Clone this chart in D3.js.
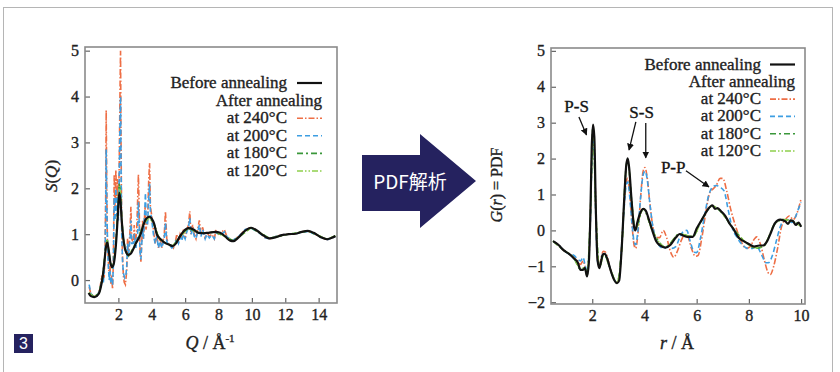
<!DOCTYPE html>
<html>
<head>
<meta charset="utf-8">
<script src="https://cdn.jsdelivr.net/npm/d3@7"></script>
<style>
  body { margin: 0; background: #fff; }
  svg { display: block; }
  .serif { stroke: #222; stroke-width: 0.35px; }
</style>
</head>
<body>
<div id="chart"></div>
<script>
// legend rows
const legendLabels = ['at 240°C', 'at 200°C', 'at 180°C', 'at 120°C'];
const seriesColors = ['#ee6e45', '#3d9ee2', '#3a973a', '#8fd04c'];
const seriesDash = ['6,2,1.5,2', '5,3', '6,3,2,3', '6,2,1.5,2,1.5,2'];

// left panel: S(Q)
const sqTicksX = [2, 4, 6, 8, 10, 12, 14];
const sqTicksY = [0, 1, 2, 3, 4, 5];

const sqBefore = [[0.22,-0.28],[0.35,-0.35],[0.55,-0.37],[0.7,-0.35],[0.85,-0.28],[0.95,-0.15],[1.05,0.05],[1.15,0.35],[1.25,0.7],[1.33,0.82],[1.42,0.65],[1.52,0.38],[1.62,0.28],[1.72,0.35],[1.85,0.75],[1.95,1.3],[2.05,1.9],[2.12,1.75],[2.2,1.3],[2.3,0.9],[2.45,0.62],[2.6,0.55],[2.75,0.58],[2.9,0.68],[3.05,0.8],[3.2,0.9],[3.35,1.02],[3.5,1.2],[3.65,1.33],[3.85,1.38],[4.0,1.34],[4.15,1.22],[4.3,1.0],[4.45,0.92],[4.65,0.85],[4.85,0.8],[5.05,0.77],[5.25,0.74],[5.45,0.8],[5.65,0.93],[5.9,1.06],[6.2,1.13],[6.5,1.1],[6.8,1.03],[7.1,1.02],[7.4,1.03],[7.8,1.05],[8.1,1.03],[8.4,0.95],[8.7,0.86],[8.9,0.85],[9.2,0.93],[9.6,1.08],[9.95,1.14],[10.3,1.08],[10.7,0.97],[11.05,0.91],[11.4,0.93],[11.8,0.98],[12.2,1.0],[12.6,1.01],[13.0,1.05],[13.35,1.07],[13.7,1.03],[14.1,0.94],[14.5,0.89],[14.8,0.92],[15.0,0.96]];

const sq240 = [[0.25,-0.15],[0.35,-0.3],[0.5,-0.35],[0.7,-0.35],[0.85,-0.25],[0.95,-0.05],[1.0,0.1],[1.05,-0.05],[1.1,0.2],[1.15,0.05],[1.2,0.6],[1.24,1.8],[1.27,3.7],[1.3,2.2],[1.34,0.9],[1.4,0.4],[1.45,0.1],[1.5,0.3],[1.55,-0.1],[1.6,0.1],[1.65,-0.2],[1.7,0.4],[1.75,2.3],[1.8,1.6],[1.85,2.4],[1.9,1.7],[1.95,2.2],[2.0,1.5],[2.05,2.5],[2.1,4.2],[2.13,5.0],[2.16,3.0],[2.2,1.2],[2.25,0.5],[2.3,0.1],[2.35,-0.05],[2.42,-0.1],[2.5,0.2],[2.55,0.9],[2.6,0.5],[2.7,1.1],[2.75,1.6],[2.8,0.9],[2.9,0.8],[2.95,1.2],[3.0,0.7],[3.1,1.1],[3.2,2.3],[3.25,1.5],[3.3,0.6],[3.35,0.4],[3.45,1.3],[3.5,0.9],[3.6,1.6],[3.65,1.1],[3.75,1.3],[3.82,2.2],[3.87,2.55],[3.92,1.6],[4.0,1.4],[4.1,1.1],[4.2,0.8],[4.3,1.0],[4.4,0.7],[4.5,0.9],[4.6,0.7],[4.75,1.0],[4.82,1.5],[4.9,0.9],[5.0,0.8],[5.1,0.75],[5.2,0.75],[5.3,0.7],[5.4,0.8],[5.5,1.0],[5.6,0.8],[5.7,1.0],[5.8,0.9],[5.9,1.1],[6.0,0.9],[6.1,1.1],[6.2,1.2],[6.28,1.5],[6.35,1.0],[6.45,1.2],[6.55,1.0],[6.65,0.9],[6.75,1.1],[6.85,1.3],[6.95,1.0],[7.05,1.15],[7.2,0.9],[7.3,1.05],[7.45,0.95],[7.6,1.0],[7.75,0.9],[7.85,1.1],[8.0,1.0],[8.2,1.05],[8.35,1.1],[8.5,0.95],[8.8,0.85],[9.2,0.95],[9.6,1.1],[9.95,1.14],[10.4,1.05],[10.8,0.92],[11.1,0.9],[11.5,0.96],[12.0,1.0],[12.5,1.0],[13.0,1.05],[13.35,1.07],[13.8,1.0],[14.2,0.92],[14.55,0.88],[15,0.95]];

const sq200 = [[0.25,-0.1],[0.35,-0.3],[0.5,-0.35],[0.7,-0.35],[0.85,-0.25],[0.95,-0.1],[1.05,0.05],[1.1,-0.05],[1.15,0.2],[1.2,0.5],[1.24,1.5],[1.27,2.85],[1.3,1.8],[1.35,0.8],[1.4,0.3],[1.45,0.0],[1.5,0.2],[1.55,-0.05],[1.6,0.05],[1.65,-0.1],[1.7,0.3],[1.75,1.8],[1.8,1.3],[1.85,2.0],[1.9,1.4],[1.95,1.8],[2.0,1.3],[2.05,2.2],[2.1,3.5],[2.13,4.0],[2.16,2.5],[2.2,1.0],[2.25,0.4],[2.3,0.15],[2.38,0.05],[2.45,0.1],[2.5,0.3],[2.55,0.8],[2.6,0.5],[2.7,0.9],[2.75,1.3],[2.8,0.8],[2.9,0.8],[2.95,1.0],[3.05,0.7],[3.15,1.0],[3.2,1.7],[3.25,1.2],[3.3,0.6],[3.35,0.45],[3.45,1.1],[3.5,0.9],[3.58,1.5],[3.62,1.9],[3.68,1.2],[3.75,1.2],[3.82,1.8],[3.87,2.1],[3.92,1.5],[4.0,1.3],[4.1,1.0],[4.2,0.8],[4.3,0.95],[4.4,0.7],[4.5,0.85],[4.6,0.7],[4.75,0.9],[4.82,1.25],[4.9,0.85],[5.0,0.75],[5.1,0.75],[5.2,0.7],[5.3,0.72],[5.4,0.8],[5.5,0.9],[5.6,0.8],[5.7,0.95],[5.8,0.85],[5.9,1.0],[6.0,0.9],[6.1,1.05],[6.2,1.15],[6.28,1.35],[6.35,1.0],[6.45,1.1],[6.55,0.95],[6.65,0.9],[6.75,1.05],[6.85,1.2],[6.95,0.95],[7.05,1.1],[7.2,0.9],[7.3,1.0],[7.45,0.92],[7.6,0.98],[7.75,0.9],[7.85,1.05],[8.0,1.0],[8.2,1.0],[8.35,1.05],[8.5,0.95],[8.8,0.85],[9.2,0.95],[9.6,1.1],[9.95,1.13],[10.4,1.04],[10.8,0.92],[11.1,0.9],[11.5,0.96],[12.0,1.0],[12.5,1.0],[13.0,1.04],[13.35,1.06],[13.8,1.0],[14.2,0.92],[14.55,0.88],[15,0.95]];

const sq180 = [[0.22,-0.28],[0.55,-0.37],[0.85,-0.28],[1.05,0.05],[1.15,0.38],[1.25,0.75],[1.33,0.9],[1.42,0.66],[1.52,0.38],[1.62,0.27],[1.72,0.36],[1.85,0.8],[1.95,1.45],[2.05,2.1],[2.12,1.95],[2.2,1.35],[2.3,0.9],[2.45,0.6],[2.6,0.53],[2.9,0.7],[3.2,0.92],[3.5,1.22],[3.85,1.38],[4.15,1.2],[4.45,0.9],[4.85,0.8],[5.25,0.74],[5.65,0.94],[6.2,1.13],[6.8,1.03],[7.4,1.03],[7.8,1.05],[8.4,0.95],[8.9,0.85],[9.95,1.14],[11.05,0.91],[12.2,1.0],[13.35,1.07],[14.5,0.89],[15.0,0.96]];

const sq120 = [[0.22,-0.28],[0.55,-0.37],[0.85,-0.28],[1.05,0.05],[1.15,0.37],[1.25,0.74],[1.33,0.88],[1.42,0.66],[1.52,0.38],[1.62,0.28],[1.72,0.36],[1.85,0.78],[1.95,1.4],[2.05,2.05],[2.12,1.9],[2.2,1.32],[2.3,0.9],[2.45,0.61],[2.6,0.54],[2.9,0.69],[3.2,0.91],[3.5,1.21],[3.85,1.38],[4.15,1.21],[4.45,0.91],[4.85,0.8],[5.25,0.74],[5.65,0.93],[6.2,1.13],[6.8,1.03],[7.4,1.03],[7.8,1.05],[8.4,0.95],[8.9,0.85],[9.95,1.14],[11.05,0.91],[12.2,1.0],[13.35,1.07],[14.5,0.89],[15.0,0.96]];

// right panel: G(r)
const grTicksX = [2, 4, 6, 8, 10];
const grTicksY = [-2, -1, 0, 1, 2, 3, 4, 5];

const grBefore = [[0.5,-0.3],[0.7,-0.4],[0.9,-0.55],[1.1,-0.65],[1.3,-0.78],[1.45,-0.9],[1.55,-1.1],[1.65,-1.1],[1.72,-1.05],[1.8,-1.28],[1.87,-0.9],[1.93,0.5],[1.98,2.3],[2.03,2.95],[2.08,2.6],[2.14,0.5],[2.2,-0.8],[2.27,-1.05],[2.33,-0.9],[2.4,-0.68],[2.48,-0.65],[2.58,-0.8],[2.7,-1.1],[2.82,-1.35],[2.95,-1.47],[3.03,-1.4],[3.12,-0.6],[3.22,0.8],[3.3,1.8],[3.36,2.01],[3.42,1.7],[3.5,0.9],[3.6,0.1],[3.65,0.0],[3.72,0.2],[3.82,0.45],[3.95,0.6],[4.05,0.55],[4.15,0.35],[4.3,0.0],[4.45,-0.3],[4.6,-0.42],[4.8,-0.48],[5.0,-0.4],[5.2,-0.2],[5.35,-0.1],[5.5,-0.15],[5.65,-0.18],[5.85,-0.18],[6.0,0.05],[6.2,0.3],[6.4,0.55],[6.6,0.7],[6.7,0.6],[6.8,0.62],[6.95,0.52],[7.1,0.4],[7.25,0.2],[7.4,0.05],[7.6,-0.2],[7.8,-0.3],[8.0,-0.38],[8.2,-0.45],[8.4,-0.42],[8.55,-0.42],[8.7,-0.3],[8.85,-0.05],[9.0,0.2],[9.2,0.3],[9.4,0.25],[9.5,0.18],[9.6,0.28],[9.7,0.25],[9.8,0.15],[9.9,0.22],[10.0,0.1]];

const gr240 = [[0.5,-0.3],[0.7,-0.4],[0.9,-0.55],[1.1,-0.65],[1.3,-0.75],[1.45,-0.85],[1.55,-0.95],[1.65,-0.85],[1.72,-1.0],[1.8,-1.2],[1.87,-0.8],[1.93,0.4],[1.98,2.0],[2.03,2.6],[2.08,2.3],[2.14,0.4],[2.2,-0.8],[2.27,-1.0],[2.33,-0.8],[2.42,-0.58],[2.5,-0.6],[2.6,-0.8],[2.7,-1.1],[2.82,-1.35],[2.95,-1.45],[3.03,-1.35],[3.12,-0.5],[3.22,0.7],[3.3,1.35],[3.36,1.45],[3.44,1.0],[3.52,0.2],[3.6,-0.4],[3.66,-0.5],[3.75,-0.1],[3.85,0.9],[3.95,1.65],[4.02,1.75],[4.1,1.5],[4.2,0.8],[4.3,0.2],[4.45,-0.2],[4.58,-0.2],[4.72,0.0],[4.85,-0.2],[5.0,-0.6],[5.12,-0.75],[5.25,-0.6],[5.4,-0.3],[5.55,-0.12],[5.65,-0.15],[5.8,-0.5],[5.95,-0.72],[6.05,-0.7],[6.2,-0.2],[6.35,0.5],[6.5,1.05],[6.62,1.15],[6.75,1.25],[6.9,1.45],[7.0,1.45],[7.15,1.1],[7.3,0.6],[7.5,0.1],[7.7,-0.3],[7.9,-0.5],[8.05,-0.45],[8.2,-0.25],[8.3,-0.18],[8.45,-0.4],[8.6,-0.85],[8.72,-1.15],[8.82,-1.23],[8.95,-1.0],[9.1,-0.5],[9.25,0.1],[9.4,0.3],[9.55,0.4],[9.7,0.3],[9.8,0.4],[9.9,0.6],[10.0,0.88]];

const gr200 = [[0.5,-0.3],[0.7,-0.4],[0.9,-0.55],[1.1,-0.65],[1.3,-0.7],[1.45,-0.8],[1.55,-0.85],[1.65,-0.75],[1.72,-0.95],[1.8,-1.15],[1.87,-0.75],[1.93,0.3],[1.98,1.8],[2.03,2.5],[2.08,2.2],[2.14,0.3],[2.2,-0.85],[2.27,-1.0],[2.33,-0.85],[2.42,-0.65],[2.5,-0.7],[2.6,-0.85],[2.7,-1.1],[2.82,-1.35],[2.95,-1.45],[3.03,-1.35],[3.12,-0.5],[3.22,0.6],[3.3,1.25],[3.36,1.35],[3.44,0.9],[3.52,0.2],[3.6,-0.3],[3.66,-0.4],[3.75,0.0],[3.85,0.9],[3.95,1.55],[4.02,1.65],[4.1,1.45],[4.2,0.8],[4.3,0.2],[4.45,-0.25],[4.6,-0.45],[4.75,-0.5],[4.9,-0.45],[5.05,-0.5],[5.2,-0.45],[5.35,-0.2],[5.5,-0.02],[5.62,0.0],[5.75,-0.3],[5.9,-0.6],[6.0,-0.62],[6.15,-0.2],[6.3,0.4],[6.45,0.95],[6.6,1.2],[6.75,1.25],[6.9,1.2],[7.05,1.1],[7.2,0.6],[7.35,0.1],[7.55,-0.2],[7.75,-0.4],[7.95,-0.5],[8.15,-0.5],[8.3,-0.45],[8.5,-0.7],[8.65,-0.9],[8.75,-0.9],[8.9,-0.7],[9.05,-0.3],[9.2,0.1],[9.35,0.28],[9.5,0.3],[9.65,0.22],[9.8,0.4],[9.9,0.6],[10.0,0.78]];

const gr180 = [[0.5,-0.3],[0.9,-0.55],[1.3,-0.78],[1.55,-1.08],[1.72,-1.05],[1.8,-1.25],[1.93,0.5],[2.03,2.9],[2.14,0.5],[2.27,-1.02],[2.45,-0.66],[2.7,-1.1],[2.95,-1.46],[3.12,-0.6],[3.3,1.78],[3.36,1.98],[3.5,0.9],[3.65,0.02],[3.95,0.6],[4.3,0.0],[4.8,-0.46],[5.35,-0.1],[5.85,-0.17],[6.2,0.3],[6.6,0.68],[6.95,0.5],[7.4,0.05],[8.0,-0.4],[8.25,-0.5],[8.55,-0.45],[9.0,0.18],[9.3,0.3],[9.6,0.28],[10.0,0.12]];

const gr120 = [[0.5,-0.3],[0.9,-0.55],[1.3,-0.77],[1.55,-1.06],[1.72,-1.04],[1.8,-1.25],[1.93,0.5],[2.03,2.9],[2.14,0.5],[2.27,-1.03],[2.45,-0.66],[2.7,-1.1],[2.95,-1.46],[3.12,-0.6],[3.3,1.76],[3.36,1.97],[3.5,0.9],[3.65,0.02],[3.95,0.6],[4.3,0.0],[4.8,-0.47],[5.35,-0.1],[5.85,-0.17],[6.2,0.3],[6.6,0.68],[6.95,0.5],[7.4,0.05],[8.0,-0.4],[8.25,-0.48],[8.55,-0.44],[9.0,0.19],[9.3,0.3],[9.6,0.27],[10.0,0.12]];

// peak labels on the G(r) panel, in data units
const peakLabels = [
  { text: 'P-S', x: 1.40, y: 3.30 },
  { text: 'S-S', x: 3.89, y: 3.13 },
  { text: 'P-P', x: 5.10, y: 1.60 }
];
const peakArrows = [
  { x1: 1.49, y1: 3.16, x2: 1.78, y2: 2.66 },
  { x1: 3.67, y1: 3.02, x2: 3.41, y2: 2.24 },
  { x1: 4.05, y1: 2.99, x2: 4.05, y2: 2.02 },
  { x1: 5.59, y1: 1.66, x2: 6.47, y2: 1.21 }
];

const W = 840, H = 372;
const serif = '"Liberation Serif", "Times New Roman", serif';
const textColor = '#222';
const frameColor = '#8a8a8a';

const svg = d3.select('#chart').append('svg')
  .attr('width', W)
  .attr('height', H)
  .attr('viewBox', `0 0 ${W} ${H}`);

const defs = svg.append('defs');
defs.append('marker')
  .attr('id', 'head')
  .attr('viewBox', '0 0 10 10')
  .attr('refX', 9).attr('refY', 5)
  .attr('markerWidth', 7).attr('markerHeight', 7)
  .attr('markerUnits', 'userSpaceOnUse')
  .attr('orient', 'auto')
  .append('path')
  .attr('d', 'M0,0 L10,5 L0,10 z')
  .attr('fill', '#111');

// outer frame of the figure
svg.append('rect')
  .attr('x', 3.5).attr('y', 7.5)
  .attr('width', 829).attr('height', 380)
  .attr('fill', 'none')
  .attr('stroke', '#b5b5b5')
  .attr('stroke-width', 1);

function panel(opts) {
  const x = d3.scaleLinear().domain(opts.xDomain).range(opts.xRange);
  const y = d3.scaleLinear().domain(opts.yDomain).range(opts.yRange);
  const g = svg.append('g');

  const clipId = 'clip-' + opts.id;
  defs.append('clipPath').attr('id', clipId)
    .append('rect')
    .attr('x', opts.xRange[0]).attr('y', opts.yRange[1])
    .attr('width', opts.xRange[1] - opts.xRange[0])
    .attr('height', opts.yRange[0] - opts.yRange[1]);

  const line = d3.line()
    .x(d => x(d[0]))
    .y(d => y(d[1]))
    .curve(opts.curve);

  const curves = g.append('g').attr('clip-path', `url(#${clipId})`);
  opts.series.forEach((s, i) => {
    curves.append('path')
      .datum(s)
      .attr('d', d => line(d))
      .attr('fill', 'none')
      .attr('stroke', seriesColors[i])
      .attr('stroke-width', 1.6)
      .attr('stroke-dasharray', seriesDash[i]);
  });
  curves.append('path')
    .datum(opts.before)
    .attr('d', d3.line().x(d => x(d[0])).y(d => y(d[1])).curve(d3.curveMonotoneX))
    .attr('fill', 'none')
    .attr('stroke', '#111')
    .attr('stroke-width', 2.2);

  // axes, ticks pointing inside
  const xAxis = g.append('g')
    .attr('transform', `translate(0,${opts.yRange[0]})`)
    .call(d3.axisBottom(x).tickValues(opts.xTicks).tickFormat(d3.format('d')).tickSize(-5).tickPadding(6));
  const yAxis = g.append('g')
    .attr('transform', `translate(${opts.xRange[0]},0)`)
    .call(d3.axisLeft(y).tickValues(opts.yTicks).tickFormat(d3.format('d')).tickSize(-5).tickPadding(6));
  [xAxis, yAxis].forEach(a => {
    a.attr('font-family', serif).attr('font-size', 16);
    a.select('.domain').remove();
    a.selectAll('line').attr('stroke', '#666').attr('stroke-width', 1.2);
    a.selectAll('text')
      .attr('class', 'serif')
      .style('font-family', serif)
      .style('font-size', '16px')
      .attr('fill', textColor);
  });

  g.append('rect')
    .attr('x', opts.xRange[0]).attr('y', opts.yRange[1])
    .attr('width', opts.xRange[1] - opts.xRange[0])
    .attr('height', opts.yRange[0] - opts.yRange[1])
    .attr('fill', 'none')
    .attr('stroke', frameColor)
    .attr('stroke-width', 1.6);

  // legend
  const lg = opts.legend;
  const rows = [{ label: 'Before annealing', right: lg.textRight, line: true }]
    .concat([{ label: 'After annealing', right: lg.lineRight, line: false }])
    .concat(legendLabels.map((l, i) => ({ label: l, right: lg.textRight, series: i })));
  rows.forEach((r, i) => {
    const by = lg.top + i * lg.step;
    g.append('text')
      .attr('class', 'serif')
      .attr('x', r.right)
      .attr('y', by)
      .attr('text-anchor', 'end')
      .attr('font-family', serif)
      .attr('font-size', 17)
      .attr('fill', textColor)
      .text(r.label);
    if (r.line || r.series !== undefined) {
      g.append('line')
        .attr('x1', lg.lineLeft).attr('x2', lg.lineRight)
        .attr('y1', by - 5).attr('y2', by - 5)
        .attr('stroke', r.line ? '#111' : seriesColors[r.series])
        .attr('stroke-width', r.line ? 2.2 : 1.6)
        .attr('stroke-dasharray', r.line ? null : seriesDash[r.series]);
    }
  });

  return { g, x, y };
}

const left = panel({
  id: 'sq',
  xDomain: [0, 15.1], xRange: [85, 337],
  yDomain: [-0.5, 5.08], yRange: [303, 47],
  xTicks: sqTicksX, yTicks: sqTicksY,
  series: [sq240, sq200, sq180, sq120],
  before: sqBefore,
  curve: d3.curveLinear,
  legend: { top: 88, step: 17.6, textRight: 287, lineLeft: 297, lineRight: 322 }
});

const right = panel({
  id: 'gr',
  xDomain: [0.42, 10.15], xRange: [551, 805],
  yDomain: [-2.05, 5.08], yRange: [304, 48],
  xTicks: grTicksX, yTicks: grTicksY,
  series: [gr240, gr200, gr180, gr120],
  before: grBefore,
  curve: d3.curveMonotoneX,
  legend: { top: 69.5, step: 17.3, textRight: 761, lineLeft: 770, lineRight: 795 }
});

// axis titles
const sqTitle = svg.append('text')
  .attr('class', 'serif')
  .attr('transform', 'translate(57,176) rotate(-90)')
  .attr('text-anchor', 'middle')
  .attr('font-family', serif).attr('font-size', 17).attr('fill', textColor);
sqTitle.append('tspan').attr('font-style', 'italic').text('S');
sqTitle.append('tspan').text('(');
sqTitle.append('tspan').attr('font-style', 'italic').text('Q');
sqTitle.append('tspan').text(')');

const qTitle = svg.append('text')
  .attr('class', 'serif')
  .attr('x', 210).attr('y', 349)
  .attr('text-anchor', 'middle')
  .attr('font-family', serif).attr('font-size', 18).attr('fill', textColor);
qTitle.append('tspan').attr('font-style', 'italic').text('Q');
qTitle.append('tspan').text(' / Å');
qTitle.append('tspan').attr('font-size', 11).attr('dy', -7).text('-1');

const grTitle = svg.append('text')
  .attr('class', 'serif')
  .attr('transform', 'translate(502,185) rotate(-90)')
  .attr('text-anchor', 'middle')
  .attr('font-family', serif).attr('font-size', 16).attr('fill', textColor);
grTitle.append('tspan').attr('font-style', 'italic').text('G');
grTitle.append('tspan').text('(');
grTitle.append('tspan').attr('font-style', 'italic').text('r');
grTitle.append('tspan').text(') = PDF');

const rTitle = svg.append('text')
  .attr('class', 'serif')
  .attr('x', 677).attr('y', 349)
  .attr('text-anchor', 'middle')
  .attr('font-family', serif).attr('font-size', 18).attr('fill', textColor);
rTitle.append('tspan').attr('font-style', 'italic').text('r');
rTitle.append('tspan').text(' / Å');

// peak annotations
right.g.selectAll('.peak-label')
  .data(peakLabels)
  .enter().append('text')
  .attr('class', 'serif')
  .attr('x', d => right.x(d.x))
  .attr('y', d => right.y(d.y))
  .attr('text-anchor', 'middle')
  .attr('font-family', serif).attr('font-size', 17).attr('fill', '#111')
  .text(d => d.text);
right.g.selectAll('.peak-arrow')
  .data(peakArrows)
  .enter().append('line')
  .attr('x1', d => right.x(d.x1)).attr('y1', d => right.y(d.y1))
  .attr('x2', d => right.x(d.x2)).attr('y2', d => right.y(d.y2))
  .attr('stroke', '#111').attr('stroke-width', 1.3)
  .attr('marker-end', 'url(#head)');

// big arrow between the panels
const navy = '#25225f';
svg.append('path')
  .attr('d', 'M362,155 L420,155 L420,134 L476,181 L420,228 L420,211 L362,211 Z')
  .attr('fill', navy);
svg.append('text')
  .attr('x', 410).attr('y', 189)
  .attr('text-anchor', 'middle')
  .attr('font-family', '"Noto Sans CJK JP", "Noto Sans", sans-serif')
  .attr('font-size', 19)
  .attr('fill', '#fff')
  .text('PDF解析');

// figure number
svg.append('rect')
  .attr('x', 14).attr('y', 334).attr('width', 19).attr('height', 19)
  .attr('fill', navy);
svg.append('text')
  .attr('x', 23.5).attr('y', 349)
  .attr('text-anchor', 'middle')
  .attr('font-family', '"Liberation Sans", Arial, sans-serif')
  .attr('font-size', 16)
  .attr('fill', '#fff')
  .text('3');
</script>
</body>
</html>
